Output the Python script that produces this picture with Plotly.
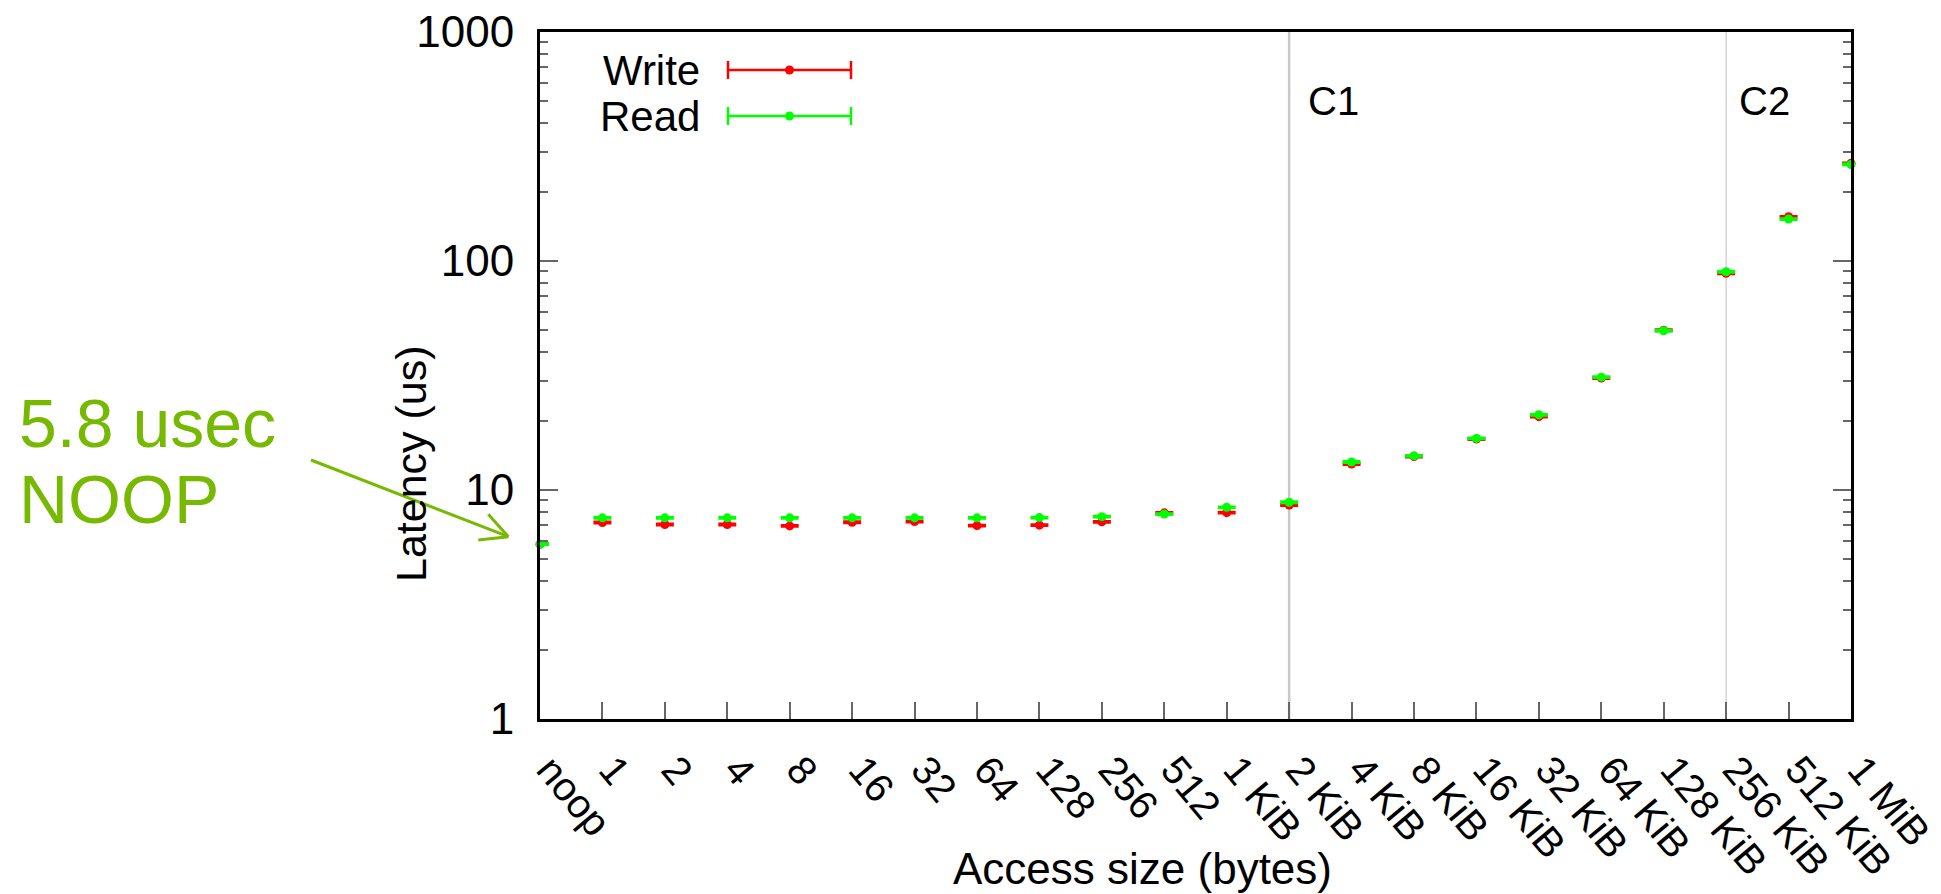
import plotly.graph_objects as go

# ---------------- data ----------------
categories = ["noop", "1", "2", "4", "8", "16", "32", "64", "128", "256", "512",
              "1 KiB", "2 KiB", "4 KiB", "8 KiB", "16 KiB", "32 KiB", "64 KiB",
              "128 KiB", "256 KiB", "512 KiB", "1 MiB"]
write_us = [5.8, 7.21, 7.07, 7.07, 6.97, 7.23, 7.28, 6.99, 7.02, 7.26, 7.95,
            7.96, 8.60, 12.99, 14.0, 16.7, 20.9, 30.8, 49.9, 88.4, 156, 267]
read_us = [5.8, 7.56, 7.56, 7.56, 7.56, 7.56, 7.56, 7.56, 7.58, 7.65, 7.85,
           8.40, 8.84, 13.25, 14.1, 16.8, 21.3, 31.1, 49.6, 89.8, 152.5, 264]
write_err = [0.02, 0.03, 0.03, 0.03, 0.03, 0.03, 0.03, 0.03, 0.03, 0.03, 0.03,
             0.03, 0.04, 0.06, 0.06, 0.07, 0.09, 0.13, 0.2, 0.4, 0.6, 1.0]
read_err = [0.02, 0.03, 0.03, 0.03, 0.03, 0.03, 0.03, 0.03, 0.03, 0.03, 0.03,
            0.03, 0.04, 0.06, 0.06, 0.07, 0.09, 0.13, 0.2, 0.4, 0.6, 1.0]
y_ticks = [1, 10, 100, 1000]
y_ticktext = ["1", "10", "100", "1000"]
cache_cats = ["2 KiB", "256 KiB"]
cache_labels = ["C1", "C2"]
series_names = ["Write", "Read"]

# ---------------- styles / geometry ----------------
cache_line_widths = [2.5, 1.2]
cache_label_shift = [44, 38]
W, H = 1941, 894
L, R, T, B = 540, 1851, 32, 719
FONT = "Liberation Sans, Arial, Helvetica, sans-serif"
RED = "#ff0000"
GREEN = "#00ff00"
NV = "#76b900"


def px(x):
    return (x - L) / (R - L)


def py(y):
    return (B - y) / (B - T)


fig = go.Figure()
for name, vals, errs, col in [(series_names[0], write_us, write_err, RED),
                              (series_names[1], read_us, read_err, GREEN)]:
    fig.add_trace(go.Scatter(
        x=categories, y=vals, mode="markers", name=name, showlegend=False,
        marker=dict(color=col, size=9, line=dict(width=0)),
        error_y=dict(type="data", array=errs, visible=True, color=col,
                     thickness=3, width=9),
        cliponaxis=False,
    ))

shapes = []
annotations = []

# cache-size vertical lines and labels
for cat, label, lw, xs in zip(cache_cats, cache_labels, cache_line_widths,
                              cache_label_shift):
    shapes.append(dict(type="line", xref="x", yref="paper", x0=cat, x1=cat,
                       y0=0, y1=1, line=dict(color="#c8c8c8", width=lw),
                       layer="below"))
    annotations.append(dict(x=cat, xref="x", y=py(101), yref="paper",
                            text=label, showarrow=False, xanchor="center",
                            yanchor="middle", xshift=xs,
                            font=dict(size=40, color="black", family=FONT)))

# manual legend (text left, error-bar sample right)
legend_rows = [70, 116]
for i, (name, col) in enumerate([(series_names[0], RED), (series_names[1], GREEN)]):
    yc = legend_rows[i]
    annotations.append(dict(x=px(702), y=py(yc), xref="paper", yref="paper",
                            text=name, showarrow=False, xanchor="right",
                            yanchor="middle", height=44, valign="middle",
                            font=dict(size=42, color="black", family=FONT)))
    x0l, x1l = 728, 851
    shapes.append(dict(type="line", xref="paper", yref="paper",
                       x0=px(x0l), x1=px(x1l), y0=py(yc), y1=py(yc),
                       line=dict(color=col, width=2.5)))
    for xe in (x0l, x1l):
        shapes.append(dict(type="line", xref="paper", yref="paper",
                           x0=px(xe), x1=px(xe), y0=py(yc - 9), y1=py(yc + 9),
                           line=dict(color=col, width=2.5)))
    xm = (x0l + x1l) / 2
    shapes.append(dict(type="circle", xref="paper", yref="paper",
                       x0=px(xm - 4.5), x1=px(xm + 4.5),
                       y0=py(yc - 4.5), y1=py(yc + 4.5),
                       fillcolor=col, line=dict(color=col, width=0)))

# NOOP callout arrow (open V head)
sx, sy = 311, 460
tx, ty = 508.3, 536.7
a1 = (488.3, 514.3)
a2 = (478.3, 540.0)
shapes.append(dict(type="line", xref="paper", yref="paper",
                   x0=px(sx), y0=py(sy), x1=px(tx), y1=py(ty),
                   line=dict(color=NV, width=3)))
for ax_, ay_ in (a1, a2):
    shapes.append(dict(type="line", xref="paper", yref="paper",
                       x0=px(ax_), y0=py(ay_), x1=px(tx), y1=py(ty),
                       line=dict(color=NV, width=3)))
annotations.append(dict(x=px(17), y=py(423), xref="paper", yref="paper",
                        text="5.8 usec", showarrow=False, xanchor="left",
                        yanchor="middle",
                        font=dict(size=68, color=NV, family=FONT)))
annotations.append(dict(x=px(17), y=py(499), xref="paper", yref="paper",
                        text="NOOP", showarrow=False, xanchor="left",
                        yanchor="middle",
                        font=dict(size=68, color=NV, family=FONT)))

# axis titles
annotations.append(dict(x=px(411), y=py(464), xref="paper", yref="paper",
                        text="Latency (us)", showarrow=False, textangle=-90,
                        xanchor="center", yanchor="middle",
                        font=dict(size=43, color="black", family=FONT)))
annotations.append(dict(x=px(1142), y=py(868), xref="paper", yref="paper",
                        text="Access size (bytes)", showarrow=False,
                        xanchor="center", yanchor="middle",
                        font=dict(size=44, color="black", family=FONT)))

fig.update_layout(
    width=W, height=H,
    margin=dict(l=L, r=W - R, t=T, b=H - B, pad=0, autoexpand=False),
    paper_bgcolor="white", plot_bgcolor="white",
    font=dict(family=FONT, color="black"),
    shapes=shapes, annotations=annotations,
    showlegend=False,
    xaxis=dict(
        type="category", categoryorder="array", categoryarray=categories,
        range=[0, len(categories) - 1], automargin=False,
        showgrid=False, zeroline=False,
        showline=True, linecolor="black", linewidth=3, mirror=True,
        ticks="inside", ticklen=17, tickwidth=1.5, tickcolor="#666666",
        tickangle=50, tickfont=dict(size=40, family=FONT, color="black"),
        ticklabelstandoff=8, ticklabelshift=10,
    ),
    yaxis=dict(
        type="log", range=[0, 3], automargin=False,
        tickmode="array", tickvals=y_ticks, ticktext=y_ticktext,
        showgrid=False, zeroline=False,
        showline=True, linecolor="black", linewidth=3, mirror="ticks",
        ticks="inside", ticklen=18, tickwidth=1.5, tickcolor="#666666",
        tickfont=dict(size=44, family=FONT, color="black"),
        ticklabelstandoff=14,
        minor=dict(ticks="inside", ticklen=8, tickwidth=1.5,
                   tickcolor="#666666", dtick="D1", showgrid=False),
    ),
)

fig.write_html(
    "out.html",
    config={"displayModeBar": False},
    post_script="document.body.style.margin='0px';"
                "document.body.style.overflow='hidden';",
)
